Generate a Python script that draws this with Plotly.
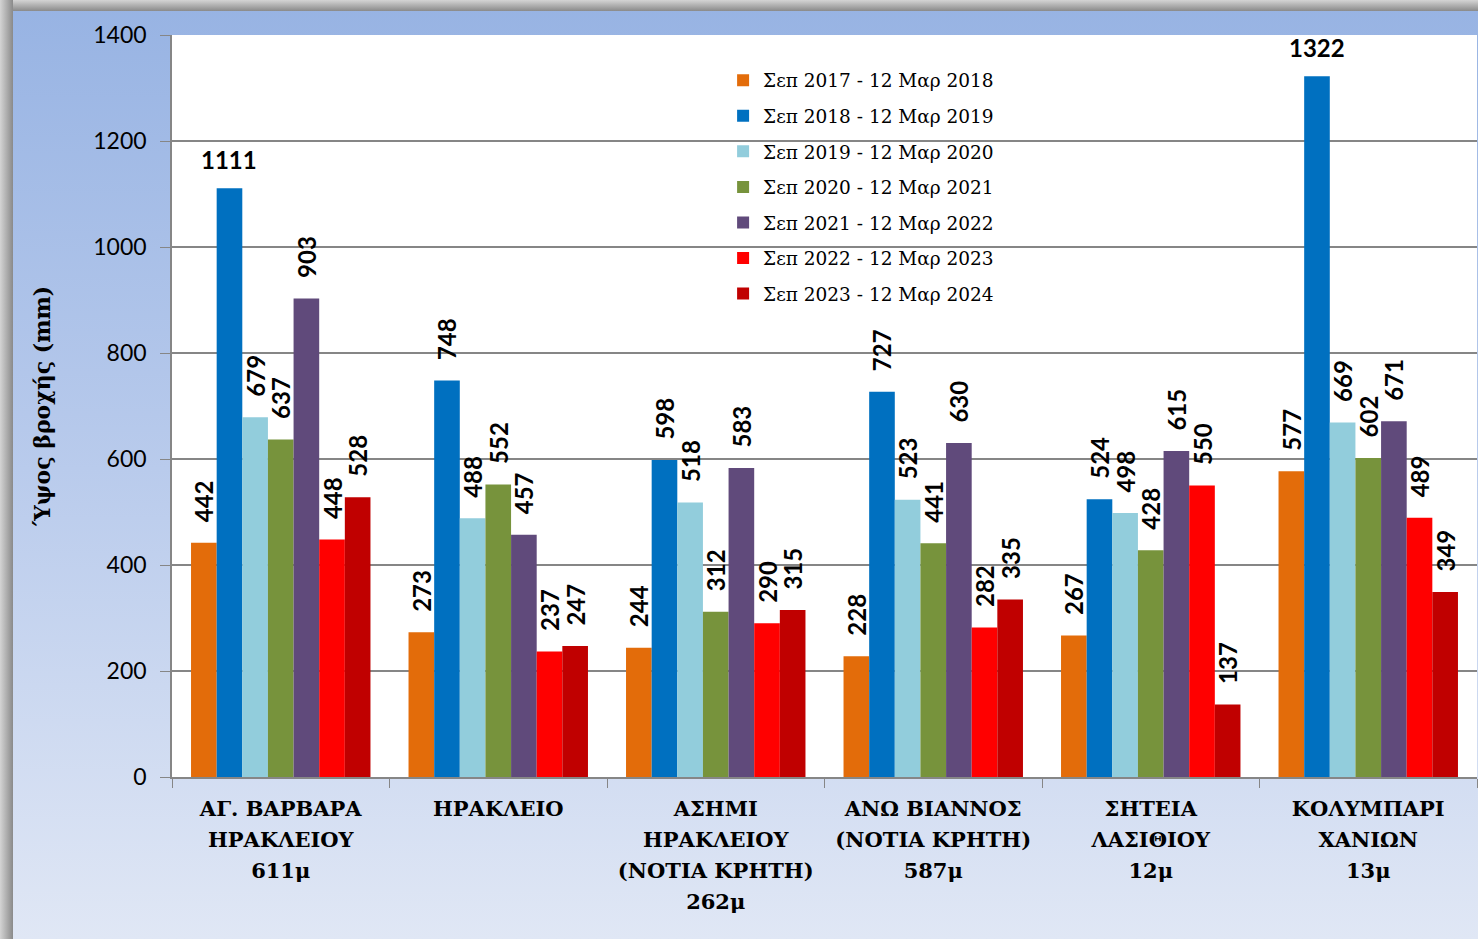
import base64
import plotly.graph_objects as go

categories = [
    "ΑΓ. ΒΑΡΒΑΡΑ<br>ΗΡΑΚΛΕΙΟΥ<br>611μ",
    "ΗΡΑΚΛΕΙΟ",
    "ΑΣΗΜΙ<br>ΗΡΑΚΛΕΙΟΥ<br>(ΝΟΤΙΑ ΚΡΗΤΗ)<br>262μ",
    "ΑΝΩ ΒΙΑΝΝΟΣ<br>(ΝΟΤΙΑ ΚΡΗΤΗ)<br>587μ",
    "ΣΗΤΕΙΑ<br>ΛΑΣΙΘΙΟΥ<br>12μ",
    "ΚΟΛΥΜΠΑΡΙ<br>ΧΑΝΙΩΝ<br>13μ",
]

series_names = [
    "Σεπ 2017 - 12 Μαρ 2018",
    "Σεπ 2018 - 12 Μαρ 2019",
    "Σεπ 2019 - 12 Μαρ 2020",
    "Σεπ 2020 - 12 Μαρ 2021",
    "Σεπ 2021 - 12 Μαρ 2022",
    "Σεπ 2022 - 12 Μαρ 2023",
    "Σεπ 2023 - 12 Μαρ 2024",
]

s2017 = [442, 273, 244, 228, 267, 577]
s2018 = [1111, 748, 598, 727, 524, 1322]
s2019 = [679, 488, 518, 523, 498, 669]
s2020 = [637, 552, 312, 441, 428, 602]
s2021 = [903, 457, 583, 630, 615, 671]
s2022 = [448, 237, 290, 282, 550, 489]
s2023 = [528, 247, 315, 335, 137, 349]

series_values = [s2017, s2018, s2019, s2020, s2021, s2022, s2023]
colors = ["#E36C0A", "#0070C0", "#92CDDC", "#77933C", "#604A7B", "#FF0000", "#C00000"]

y_title = "Ύψος βροχής (mm)"

# labels drawn horizontally instead of rotated (series index, category index)
horizontal_labels = [(1, 0), (1, 5)]

W, H = 1478, 939
ML, MR, MT, MB = 172, 1, 35, 162
BARGAP = 0.175
LABEL_FONT = dict(family="Lato", size=24, color="#000000", weight="bold")
XLAB_PX = 21

svg = f'''<svg xmlns="http://www.w3.org/2000/svg" width="{W}" height="{H}" viewBox="0 0 {W} {H}" preserveAspectRatio="none">
<defs>
<linearGradient id="g" x1="0" y1="0" x2="0" y2="1">
<stop offset="0" stop-color="#97b3e3"/>
<stop offset="0.5" stop-color="#b9cbec"/>
<stop offset="1" stop-color="#e0e7f5"/>
</linearGradient>
<linearGradient id="st" x1="0" y1="0" x2="0" y2="1">
<stop offset="0" stop-color="#d4d4d4"/>
<stop offset="1" stop-color="#8a8a8a"/>
</linearGradient>
<linearGradient id="sl" x1="0" y1="0" x2="1" y2="0">
<stop offset="0" stop-color="#d4d4d4"/>
<stop offset="1" stop-color="#8a8a8a"/>
</linearGradient>
</defs>
<rect x="0" y="0" width="{W}" height="{H}" fill="url(#g)"/>
<rect x="0" y="0" width="{W}" height="11" fill="url(#st)"/>
<rect x="0" y="0" width="13" height="{H}" fill="url(#sl)"/>
</svg>'''
svg_uri = "data:image/svg+xml;base64," + base64.b64encode(svg.encode("utf-8")).decode("ascii")

pw = W - ML - MR
ph = H - MT - MB

fig = go.Figure()
for si, (name, vals, col) in enumerate(zip(series_names, series_values, colors)):
    texts = []
    for ci, v in enumerate(vals):
        texts.append("" if (si, ci) in horizontal_labels else "\u00a0\u00a0\u00a0" + str(v))
    fig.add_trace(go.Bar(
        x=categories, y=vals, name=name, legendgroup=str(si),
        marker=dict(color=col, line=dict(width=0)),
        text=texts, textposition="outside", textangle=-90,
        textfont=LABEL_FONT,
        cliponaxis=False, constraintext="none",
    ))

ntr = len(series_values)
bw = (1 - BARGAP) / ntr
for si, ci in horizontal_labels:
    xpos = ci - (1 - BARGAP) / 2 + (si + 0.5) * bw
    fig.add_annotation(
        x=xpos, y=series_values[si][ci], xref="x", yref="y",
        text=str(series_values[si][ci]), showarrow=False,
        yanchor="bottom", yshift=12,
        font=LABEL_FONT,
    )

fig.add_layout_image(
    source=svg_uri, xref="paper", yref="paper",
    x=-ML / pw, y=1 + MT / ph, sizex=W / pw, sizey=H / ph,
    xanchor="left", yanchor="top", sizing="stretch", layer="below",
)
fig.add_shape(type="rect", xref="paper", yref="paper", x0=0, x1=1, y0=0, y1=1,
              fillcolor="white", line=dict(width=0), layer="below")

# tick text: line spacing driven by tickfont size (24 -> ~31px), glyphs drawn at XLAB_PX
ticktext = ["<br>".join(f"<span style='font-size:{XLAB_PX}px'>{ln}</span>" for ln in c.split("<br>"))
            for c in categories]

fig.update_layout(
    width=W, height=H,
    margin=dict(l=ML, r=MR, t=MT, b=MB, pad=0),
    paper_bgcolor="#dfe6f4",
    plot_bgcolor="rgba(0,0,0,0)",
    barmode="group", bargap=BARGAP, bargroupgap=0,
    showlegend=True,
    legend=dict(
        x=0.4223, y=0.964, xanchor="left", yanchor="top",
        bgcolor="rgba(0,0,0,0)",
        font=dict(family="DejaVu Serif", size=18.5, color="#000000"),
        tracegroupgap=8.5, itemclick=False,
    ),
    xaxis=dict(
        type="category",
        tickmode="array", tickvals=categories, ticktext=ticktext,
        tickson="boundaries", ticks="outside", ticklen=9, tickcolor="#868686",
        showline=True, linecolor="#868686", linewidth=1.5,
        tickfont=dict(family="DejaVu Serif", size=24, color="#000000", weight="bold"),
        ticklabelstandoff=8,
        showgrid=False,
    ),
    yaxis=dict(
        range=[0, 1400], dtick=200,
        ticks="outside", ticklen=10, tickcolor="#868686",
        showline=True, linecolor="#868686", linewidth=1.5,
        gridcolor="#868686", gridwidth=1.5,
        tickfont=dict(family="Lato", size=23, color="#000000"),
        ticklabelstandoff=9,
        title=dict(text="\u00a0\u00a0\u00a0\u00a0" + y_title, standoff=37,
                   font=dict(family="DejaVu Serif", size=22, color="#000000", weight="bold")),
        zeroline=False,
    ),
)

fig.write_html("out.html", config={"displayModeBar": False},
               post_script="document.body.style.margin='0px';")
